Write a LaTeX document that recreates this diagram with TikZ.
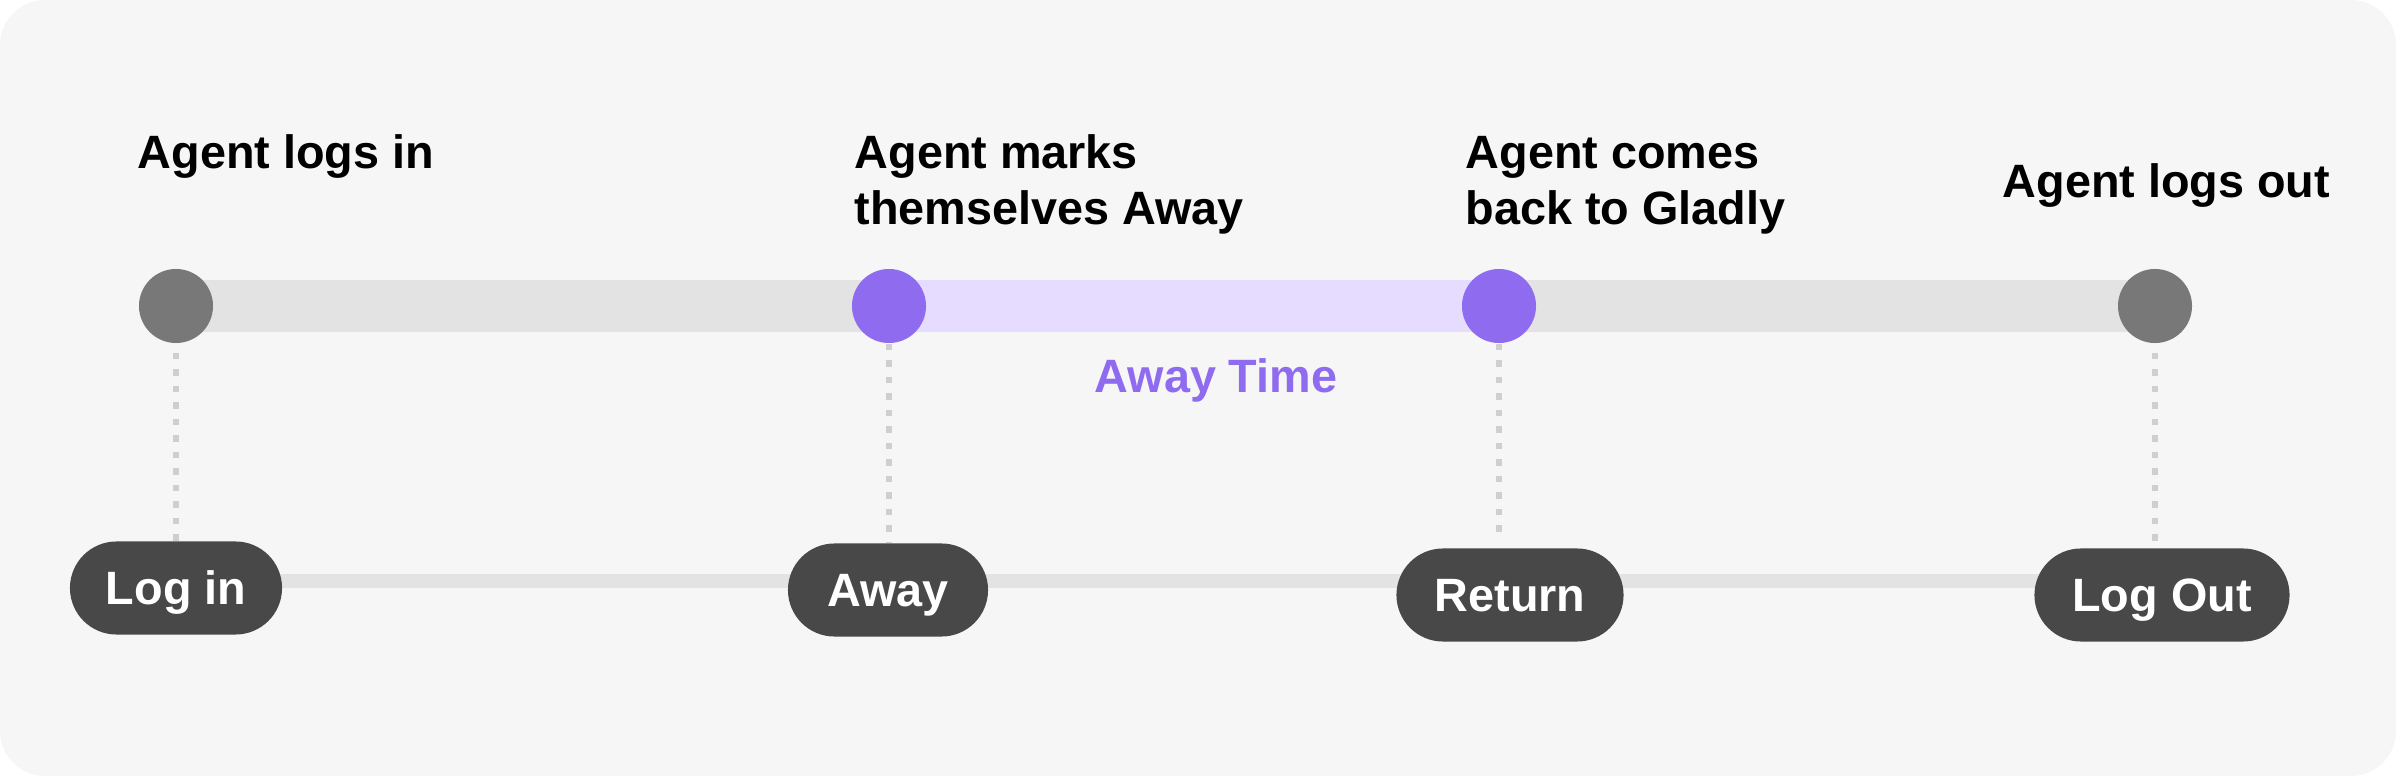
\documentclass[tikz,border=0pt]{standalone}
\usepackage{fontspec}
\setmainfont{Liberation Sans}
\usetikzlibrary{backgrounds}

\definecolor{bggray}{HTML}{F6F6F6}
\definecolor{bargray}{HTML}{E3E3E3}
\definecolor{dotgray}{HTML}{787878}
\definecolor{awaypurple}{HTML}{8F6BF0}
\definecolor{awaylight}{HTML}{E5DCFF}
\definecolor{pilldark}{HTML}{484848}
\definecolor{guidegray}{HTML}{CFCFCF}

\begin{document}
\begin{tikzpicture}[
    % 1 egység = 1 képpont
    x=0.01cm, y=-0.01cm,
    % Pontok az idővonalon
    tdot/.style={circle, inner sep=0pt, minimum size=0.74cm},
    % Sötét gombok alul
    pill/.style={fill=pilldark, text=white, rounded corners=0.465cm,
        minimum height=0.93cm, inner sep=0pt, text height=9.5pt, text depth=0pt,
        font=\bfseries\fontsize{13.3}{16}\selectfont},
    % Feliratok felül
    eventtext/.style={anchor=north west, inner sep=0pt, align=left,
        font=\bfseries\fontsize{13.3}{15.9}\selectfont},
    % Pontozott függőleges vonalak
    guide/.style={draw=guidegray, line width=0.065cm,
        dash pattern=on 0.065cm off 0.1cm}
]
    \useasboundingbox (0,0) rectangle (2396,776);

    % Pontok az idővonalon
    \node[tdot, fill=dotgray] (dotin) at (176,306) {};
    \node[tdot, fill=awaypurple] (dotaway) at (889,306) {};
    \node[tdot, fill=awaypurple] (dotreturn) at (1499,306) {};
    \node[tdot, fill=dotgray] (dotout) at (2155,306) {};

    % Gombok
    \node[pill, minimum width=2.12cm] (pillin) at (176,588) {Log in};
    \node[pill, minimum width=2.00cm] (pillaway) at (888,590) {Away};
    \node[pill, minimum width=2.27cm] (pillreturn) at (1510,595) {Return};
    \node[pill, minimum width=2.55cm] (pillout) at (2162,595) {Log Out};

    % Feliratok
    \node[eventtext] (txtin) at (137,134) {Agent logs in};
    \node[eventtext] (txtaway) at (854,134) {Agent marks\\themselves Away};
    \node[eventtext] (txtreturn) at (1465,136) {Agent comes\\back to Gladly};
    \node[eventtext] (txtout) at (2002,163) {Agent logs out};
    \node[eventtext, text=awaypurple] (awaytime) at (1094,358) {Away Time};

    % Pontozott vonalak a pontoktól a gombokig
    \draw[guide, shorten <=0.09cm] (dotin.south) -- (dotin.south |- pillin.north);
    \draw[guide] (dotaway.south) -- (dotaway.south |- pillaway.north);
    \draw[guide, shorten >=0.06cm] (dotreturn.south) -- (dotreturn.south |- pillreturn.north);
    \draw[guide, shorten <=0.09cm, shorten >=0.06cm] (dotout.south) -- (dotout.south |- pillout.north);

    % Háttér és sávok a csomópontok mögött
    \coordinate (lowline) at (0,581);
    \begin{scope}[on background layer]
        \fill[bggray, rounded corners=0.45cm] (0,0) rectangle (2396,776);
        \draw[bargray, line width=0.51cm] (dotin.center) -- (dotout.center);
        \draw[awaylight, line width=0.51cm] (dotaway.center) -- (dotreturn.center);
        \draw[bargray, line width=0.135cm] (pillin.center |- lowline) -- (pillout.center |- lowline);
    \end{scope}
\end{tikzpicture}
\end{document}
